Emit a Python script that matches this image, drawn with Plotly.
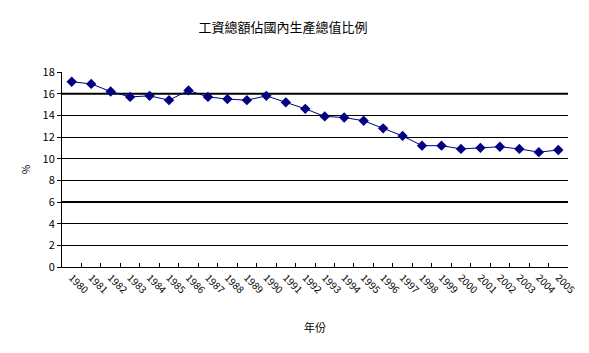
import plotly.graph_objects as go

years = [str(y) for y in range(1980, 2006)]
values = [17.1, 16.9, 16.2, 15.7, 15.8, 15.4, 16.3, 15.7, 15.5, 15.4,
          15.8, 15.2, 14.6, 13.9, 13.8, 13.5, 12.8, 12.1, 11.2, 11.2,
          10.9, 11.0, 11.1, 10.9, 10.6, 10.8]
y_ticks = list(range(0, 19, 2))

title_text = "工資總額佔國內生產總值比例"
x_title = "年份"
y_title = "%"

FONT = "Noto Sans CJK TC, Liberation Sans, sans-serif"
NAVY = "#000080"

fig = go.Figure()
fig.add_trace(go.Scatter(
    x=years, y=values, mode="lines+markers",
    line=dict(color=NAVY, width=1),
    marker=dict(symbol="diamond", size=8, color=NAVY),
    showlegend=False,
))

for yv in (16, 6):
    fig.add_hline(y=yv, line=dict(color="black", width=2), layer="below")

fig.update_layout(
    width=589, height=353,
    margin=dict(l=62, r=21, t=72, b=86),
    paper_bgcolor="white", plot_bgcolor="white",
    font=dict(family=FONT, size=11, color="black"),
    title=dict(text=title_text, x=283/589, xanchor="center", y=1-27/353, yanchor="middle",
               font=dict(family=FONT, size=13, color="black")),
    xaxis=dict(
        type="category", tickangle=45, tickson="boundaries",
        range=[-0.5, len(years) - 0.5], automargin=False,
        ticks="inside", ticklen=4, tickcolor="black",
        showline=True, linecolor="black", linewidth=1,
        showgrid=False, zeroline=False,
        tickfont=dict(size=10),
        title=dict(text=x_title, font=dict(size=11), standoff=28),
    ),
    yaxis=dict(
        range=[0, 18], tickvals=y_ticks, automargin=False,
        ticks="outside", ticklen=4, tickcolor="black",
        showline=True, linecolor="black", linewidth=1,
        showgrid=True, gridcolor="black", gridwidth=1, zeroline=False,
        tickfont=dict(size=11),
        title=dict(text=y_title, font=dict(size=10), standoff=10),
    ),
)

fig.write_html("out.html")
